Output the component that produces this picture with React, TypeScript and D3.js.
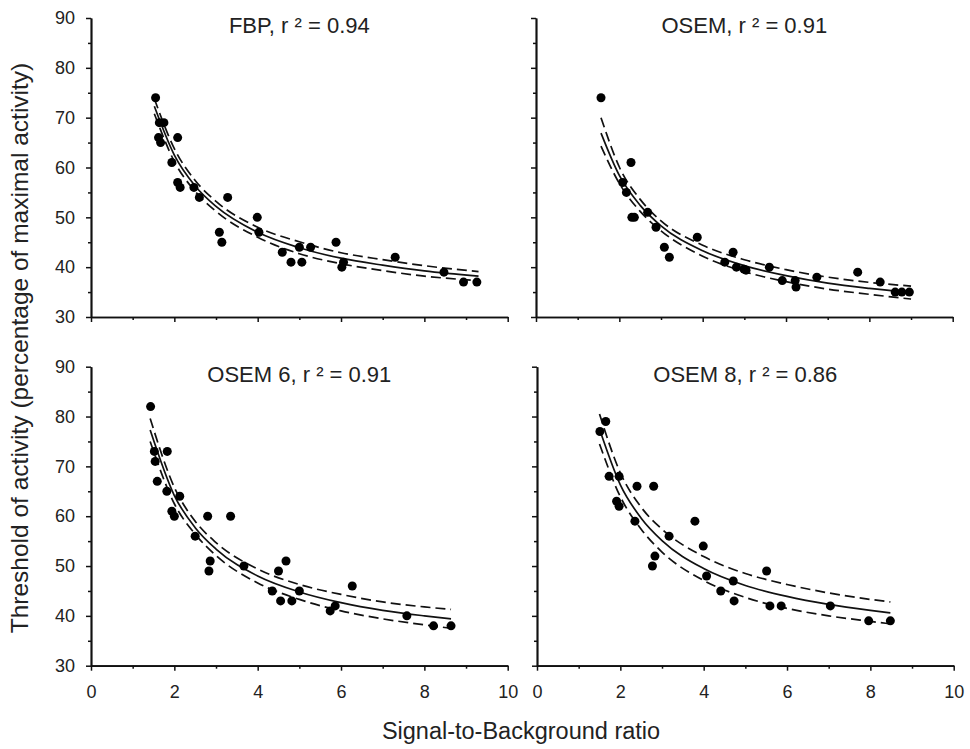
import { useRef, useEffect } from 'react';
import * as d3 from 'd3';

const panelTitles = ['FBP, r ² = 0.94', 'OSEM, r ² = 0.91', 'OSEM 6, r ² = 0.91', 'OSEM 8, r ² = 0.86'];

const xTicks = [0, 2, 4, 6, 8, 10];
const xMinorTicks = [1, 3, 5, 7, 9];
const yTicks = [30, 40, 50, 60, 70, 80, 90];
const yMinorTicks = [35, 45, 55, 65, 75, 85];

// measured points: [signal-to-background ratio, threshold %]
const fbpPoints = [
  [1.55, 74], [1.62, 66], [1.64, 69], [1.67, 65], [1.75, 69], [1.94, 61], [2.08, 66],
  [2.08, 57], [2.14, 56], [2.47, 56], [2.6, 54], [3.08, 47], [3.14, 45], [3.28, 54],
  [3.99, 50], [4.03, 47], [4.59, 43], [4.8, 41], [5.0, 44], [5.06, 41], [5.27, 44],
  [5.88, 45], [6.02, 40], [6.06, 41], [7.3, 42], [8.47, 39], [8.94, 37], [9.26, 37],
];
const osemPoints = [
  [1.56, 74], [2.08, 57], [2.17, 55], [2.28, 61], [2.3, 50], [2.36, 50], [2.68, 51],
  [2.88, 48], [3.08, 44], [3.2, 42], [3.87, 46], [4.53, 41], [4.73, 43], [4.81, 40],
  [4.99, 39.6], [5.04, 39.4], [5.6, 40], [5.91, 37.3], [6.22, 37.3], [6.24, 36],
  [6.74, 38], [7.72, 39], [8.26, 37], [8.62, 35], [8.78, 35], [8.96, 35],
];
const osem6Points = [
  [1.43, 82], [1.52, 73], [1.54, 71], [1.59, 67], [1.83, 73], [1.82, 65], [1.94, 61],
  [2.0, 60], [2.13, 64], [2.5, 56], [2.8, 60], [2.86, 51], [2.83, 49], [3.35, 60],
  [3.67, 50], [4.35, 45], [4.5, 49], [4.55, 43], [4.68, 51], [4.82, 43], [5.0, 45],
  [5.74, 41], [5.86, 42], [6.27, 46], [7.58, 40], [8.22, 38], [8.64, 38],
];
const osem8Points = [
  [1.51, 77], [1.65, 79], [1.73, 68], [1.97, 68], [1.91, 63], [1.97, 62], [2.35, 59],
  [2.4, 66], [2.8, 66], [2.77, 50], [2.83, 52], [3.17, 56], [3.79, 59], [3.99, 54],
  [4.07, 48], [4.41, 45], [4.71, 47], [4.73, 43], [5.51, 49], [5.59, 42], [5.86, 42],
  [7.04, 42], [7.96, 39], [8.48, 39],
];

const fbpCurveX = [1.52, 2, 2.5, 3, 4, 5, 6, 7, 8, 9.3];
const fbpFit = [72.3, 62.5, 56.3, 52.2, 47.0, 43.9, 41.8, 40.4, 39.25, 38.2];
const fbpUpper = [73.8, 63.8, 57.4, 53.2, 48.0, 45.1, 42.9, 41.5, 40.3, 39.1];
const fbpLower = [70.8, 61.2, 55.2, 51.2, 46.0, 42.7, 40.7, 39.3, 38.2, 37.3];

const osemCurveX = [1.56, 2, 2.5, 3, 4, 5, 6, 7, 8, 9];
const osemFit = [66.9, 58.4, 52.4, 48.3, 43.3, 40.3, 38.3, 36.8, 35.75, 34.9];
const osemUpper = [70.0, 60.1, 53.6, 49.3, 44.4, 41.5, 39.5, 38.0, 36.95, 36.2];
const osemLower = [64.3, 56.8, 51.2, 47.3, 42.2, 39.1, 37.1, 35.6, 34.55, 33.6];

const osem6CurveX = [1.42, 2, 2.5, 3, 4, 5, 6, 7, 8, 8.64];
const osem6Fit = [77.3, 64.15, 57.7, 53.4, 48.0, 44.8, 42.65, 41.1, 40.0, 39.4];
const osem6Upper = [79.6, 65.8, 59.0, 54.7, 49.4, 46.3, 44.3, 42.8, 41.8, 41.3];
const osem6Lower = [75.0, 62.5, 56.4, 52.1, 46.6, 43.3, 41.0, 39.4, 38.2, 37.5];

const osem8CurveX = [1.5, 2, 2.5, 3, 4, 5, 6, 7, 8, 8.48];
const osem8Fit = [77.5, 66.3, 59.6, 55.1, 49.5, 46.1, 43.9, 42.3, 41.1, 40.6];
const osem8Upper = [80.5, 68.7, 61.8, 57.4, 51.9, 48.5, 46.3, 44.6, 43.3, 42.8];
const osem8Lower = [74.5, 63.9, 57.4, 52.8, 47.1, 43.7, 41.5, 40.0, 38.9, 38.4];

const panels = [
  { title: panelTitles[0], points: fbpPoints, cx: fbpCurveX, fit: fbpFit, upper: fbpUpper, lower: fbpLower },
  { title: panelTitles[1], points: osemPoints, cx: osemCurveX, fit: osemFit, upper: osemUpper, lower: osemLower },
  { title: panelTitles[2], points: osem6Points, cx: osem6CurveX, fit: osem6Fit, upper: osem6Upper, lower: osem6Lower },
  { title: panelTitles[3], points: osem8Points, cx: osem8CurveX, fit: osem8Fit, upper: osem8Upper, lower: osem8Lower },
];

const FONT = '"Liberation Sans", Arial, sans-serif';

export default function App() {
  const svgRef = useRef(null);
  const width = 970;
  const height = 749;

  useEffect(() => {
    const svg = d3.select(svgRef.current);
    svg.selectAll('*').remove();

    const panelW = 416.7;
    const panelH = 299;
    const origins = [[91, 18], [536, 18], [91, 366.7], [537, 366.7]];
    const axisColor = '#111';

    const styleAxis = (g, fontSize) => {
      g.attr('font-family', FONT).attr('font-size', fontSize);
      g.selectAll('.domain').attr('stroke', axisColor).attr('stroke-width', 1.7);
      g.selectAll('.tick line').attr('stroke', axisColor).attr('stroke-width', 1.5);
      g.selectAll('.tick text').attr('fill', '#222');
    };

    panels.forEach((p, i) => {
      const [left, top] = origins[i];
      const x = d3.scaleLinear().domain([0, 10]).range([left, left + panelW]);
      const y = d3.scaleLinear().domain([30, 90]).range([top + panelH, top]);
      const showY = i % 2 === 0;
      const showX = i >= 2;
      const g = svg.append('g');

      // minor ticks
      g.append('g')
        .attr('transform', `translate(${left},0)`)
        .call(d3.axisLeft(y).tickValues(yMinorTicks).tickSize(3).tickSizeOuter(0).tickFormat(() => ''))
        .call((a) => styleAxis(a, 18));
      g.append('g')
        .attr('transform', `translate(0,${top + panelH})`)
        .call(d3.axisBottom(x).tickValues(xMinorTicks).tickSize(3).tickSizeOuter(0).tickFormat(() => ''))
        .call((a) => styleAxis(a, 18));

      // major ticks
      g.append('g')
        .attr('transform', `translate(${left},0)`)
        .call(
          d3.axisLeft(y).tickValues(yTicks).tickSize(5).tickSizeOuter(0).tickPadding(11)
            .tickFormat((d) => (showY ? String(d) : ''))
        )
        .call((a) => styleAxis(a, 18));
      g.append('g')
        .attr('transform', `translate(0,${top + panelH})`)
        .call(
          d3.axisBottom(x).tickValues(xTicks).tickSize(5).tickSizeOuter(0).tickPadding(15)
            .tickFormat((d) => (showX ? String(d) : ''))
        )
        .call((a) => styleAxis(a, 18));

      // title
      g.append('text')
        .attr('x', left + panelW / 2)
        .attr('y', top + 15)
        .attr('text-anchor', 'middle')
        .attr('font-family', FONT)
        .attr('font-size', 22)
        .attr('fill', '#222')
        .text(p.title);

      // fit line and band
      const curve = (vals) =>
        d3.line()
          .x((_, k) => x(p.cx[k]))
          .y((d) => y(d))
          .curve(d3.curveMonotoneX)(vals);

      g.append('path')
        .attr('d', curve(p.upper))
        .attr('fill', 'none')
        .attr('stroke', '#111')
        .attr('stroke-width', 1.7)
        .attr('stroke-dasharray', '10,5');
      g.append('path')
        .attr('d', curve(p.lower))
        .attr('fill', 'none')
        .attr('stroke', '#111')
        .attr('stroke-width', 1.7)
        .attr('stroke-dasharray', '10,5');
      g.append('path')
        .attr('d', curve(p.fit))
        .attr('fill', 'none')
        .attr('stroke', '#111')
        .attr('stroke-width', 1.7);

      // points
      g.append('g')
        .selectAll('circle')
        .data(p.points)
        .join('circle')
        .attr('cx', (d) => x(d[0]))
        .attr('cy', (d) => y(d[1]))
        .attr('r', 4.5)
        .attr('fill', '#000');
    });

    // axis titles
    svg.append('text')
      .attr('x', 521)
      .attr('y', 739)
      .attr('text-anchor', 'middle')
      .attr('font-family', FONT)
      .attr('font-size', 23.5)
      .attr('fill', '#222')
      .text('Signal-to-Background ratio');

    svg.append('text')
      .attr('transform', 'translate(28,348) rotate(-90)')
      .attr('text-anchor', 'middle')
      .attr('font-family', FONT)
      .attr('font-size', 24.5)
      .attr('fill', '#222')
      .text('Threshold of activity (percentage of maximal activity)');
  }, []);

  return (
    <svg
      ref={svgRef}
      width={width}
      height={height}
      style={{ position: 'absolute', left: 0, top: 0, background: '#fff' }}
    ></svg>
  );
}
